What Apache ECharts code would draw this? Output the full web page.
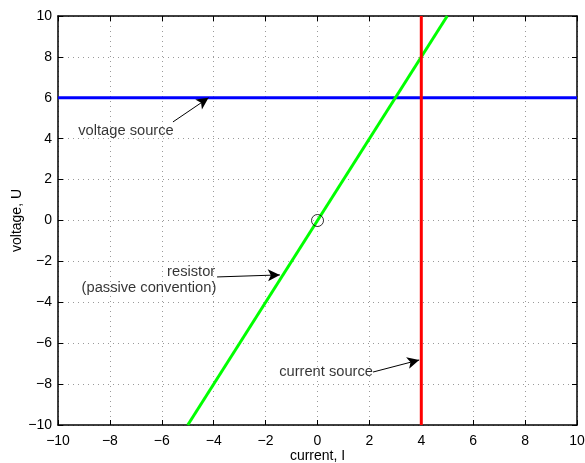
<!DOCTYPE html>
<html><head><meta charset="utf-8">
<script src="https://cdn.jsdelivr.net/npm/echarts@6/dist/echarts.min.js"></script>
<style>html,body{margin:0;padding:0;background:#fff}#c{width:585px;height:463px}</style>
</head><body><div id="c"></div>
<script>
// data
const xTicks = [-10,-8,-6,-4,-2,0,2,4,6,8,10];
const yTicks = [-10,-8,-6,-4,-2,0,2,4,6,8,10];
const voltageSource = [[-10,6],[10,6]];
const currentSource = [[4,-10],[4,10]];
const resistor = [[-5,-10],[5,10]];
const origin = [[0,0]];
const arrows = [
  {from:[-5.57,4.82], to:[-4.2,6.0]},
  {from:[-3.87,-2.76], to:[-1.45,-2.66]},
  {from:[2.14,-7.41], to:[3.92,-6.82]}
];
const labels = [
  {text:'voltage source', at:[-7.38,4.38], align:'center'},
  {text:'resistor', at:[-3.94,-2.51], align:'right'},
  {text:'(passive convention)', at:[-3.9,-3.32], align:'right'},
  {text:'current source', at:[0.33,-7.41], align:'center'}
];
const FONT = 'Liberation Sans, Arial, Helvetica, sans-serif';
const fmt = v => (v<0 ? '\u2212'+Math.abs(v) : String(v));
const chart = echarts.init(document.getElementById('c'));
const gridLine = {show:true, lineStyle:{color:'#9a9a9a', type:[1,4], width:1}};
const axisBase = {type:'value', min:-10, max:10, interval:2};
chart.setOption({
  animation:false,
  grid:{left:58, right:8, top:16, bottom:38, containLabel:false, outerBoundsMode:'none'},
  xAxis:[
    Object.assign({}, axisBase, {position:'bottom', name:'current, I', nameLocation:'middle', nameGap:24,
      nameMoveOverlap:false,
      nameTextStyle:{fontFamily:FONT, fontSize:14, color:'#000'},
      axisLine:{onZero:false, lineStyle:{color:'#000', width:1.5}},
      axisTick:{inside:true, length:5, lineStyle:{color:'#000'}},
      axisLabel:{fontFamily:FONT, fontSize:14, color:'#000', margin:9, formatter:fmt},
      splitLine:gridLine}),
    Object.assign({}, axisBase, {position:'top',
      axisLine:{onZero:false, lineStyle:{color:'#000', width:1.5}},
      axisTick:{inside:true, length:5, lineStyle:{color:'#000'}},
      axisLabel:{show:false}, splitLine:{show:false}})
  ],
  yAxis:[
    Object.assign({}, axisBase, {position:'left', name:'voltage, U', nameLocation:'middle', nameGap:34,
      nameMoveOverlap:false,
      nameTextStyle:{fontFamily:FONT, fontSize:14, color:'#000'},
      axisLine:{onZero:false, lineStyle:{color:'#000', width:1.5}},
      axisTick:{inside:true, length:5, lineStyle:{color:'#000'}},
      axisLabel:{fontFamily:FONT, fontSize:14, color:'#000', margin:6, formatter:fmt},
      splitLine:gridLine}),
    Object.assign({}, axisBase, {position:'right',
      axisLine:{onZero:false, lineStyle:{color:'#000', width:1.5}},
      axisTick:{inside:true, length:5, lineStyle:{color:'#000'}},
      axisLabel:{show:false}, splitLine:{show:false}})
  ],
  series:[
    {type:'line', data:voltageSource, showSymbol:false, lineStyle:{color:'#0000ff', width:3}, z:3},
    {type:'line', data:resistor, showSymbol:false, lineStyle:{color:'#00ff00', width:3}, z:3},
    {type:'line', data:currentSource, showSymbol:false, lineStyle:{color:'#ff0000', width:3}, z:4},
    {type:'scatter', data:origin, symbol:'circle', symbolSize:12, z:5,
      itemStyle:{color:'rgba(0,0,0,0)', borderColor:'#000', borderWidth:1}},
    {type:'line', data:[], z:6,
      markLine:{silent:true, animation:false, symbol:['none','arrow'], symbolSize:[9,12],
        label:{show:false}, lineStyle:{color:'#000', width:1, type:'solid'},
        data: arrows.map(a => [{coord:a.from},{coord:a.to}])}},
    {type:'scatter', symbolSize:0, z:7,
      data: labels.map(l => ({value:l.at, label:{show:true, position:'inside', formatter:l.text,
        align:l.align, verticalAlign:'middle', fontFamily:FONT, fontSize:14.7, color:'#000'}}))}
  ]
});
</script></body></html>
